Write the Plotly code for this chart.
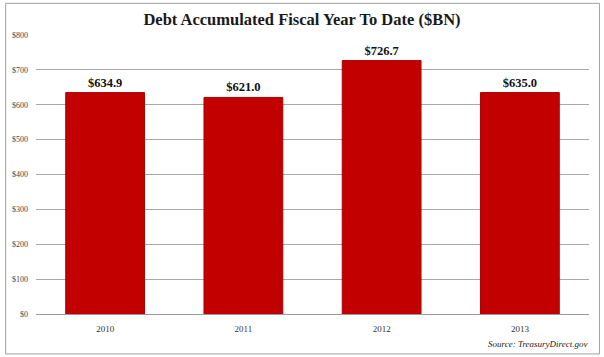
import plotly.graph_objects as go

years = ["2010", "2011", "2012", "2013"]
debt = [634.9, 621.0, 726.7, 635.0]
value_labels = ["$634.9", "$621.0", "$726.7", "$635.0"]
ytick_vals = [0, 100, 200, 300, 400, 500, 600, 700, 800]
ytick_text = ["$0", "$100", "$200", "$300", "$400", "$500", "$600", "$700", "$800"]

W, H = 604, 357
L, R, T, B = 33.5, 14.5, 34.7, 43

fig = go.Figure()
fig.add_trace(go.Bar(
    x=years, y=debt,
    text=["<b>" + t + "</b>" for t in value_labels], textposition="outside",
    textfont=dict(family="Liberation Serif", size=12.5, color="#111111"),
    marker=dict(color="#C20000", line=dict(color="#B00000", width=1)),
    width=0.57, cliponaxis=False, hoverinfo="skip",
))

pw = W - L - R
ph = H - T - B
def px_x(x):
    return (x - L) / pw
def px_y(y):
    return (H - B - y) / ph

fig.update_layout(
    width=W, height=H,
    margin=dict(l=L, r=R, t=T, b=B, pad=0),
    paper_bgcolor="white", plot_bgcolor="white",
    showlegend=False,
    title=dict(text="<b>Debt Accumulated Fiscal Year To Date ($BN)</b>",
               x=0.5, xanchor="center", y=1 - 19 / H, yanchor="middle",
               font=dict(family="Liberation Serif", size=16.5, color="#1a1a1a")),
    xaxis=dict(showgrid=False, showline=True, linecolor="#9a9a9a", linewidth=1,
               ticks="", tickfont=dict(family="Liberation Serif", size=9, color="#333333"),
               ticklabelstandoff=6),
    yaxis=dict(range=[0, 800], tickvals=ytick_vals, ticktext=ytick_text,
               showgrid=True, gridcolor="#a8a8a8", gridwidth=1, zeroline=False,
               ticks="", tickfont=dict(family="Liberation Serif", size=8, color="#444444"),
               ticklabelstandoff=7),
    bargap=0.43,
)

fig.add_shape(type="rect", xref="paper", yref="paper",
              x0=px_x(3), x1=px_x(600), y0=px_y(354), y1=px_y(3),
              line=dict(color="#a0a0a0", width=1), fillcolor="rgba(0,0,0,0)", layer="below")

fig.add_annotation(text="<i>Source: TreasuryDirect.gov</i>", xref="paper", yref="paper",
                   x=px_x(589), y=px_y(344), xanchor="right", yanchor="middle",
                   showarrow=False,
                   font=dict(family="Liberation Serif", size=9, color="#222222"))

fig.write_html("out.html", config={"displayModeBar": False, "staticPlot": True},
               post_script="document.body.style.margin='0';document.body.style.overflow='hidden';")
